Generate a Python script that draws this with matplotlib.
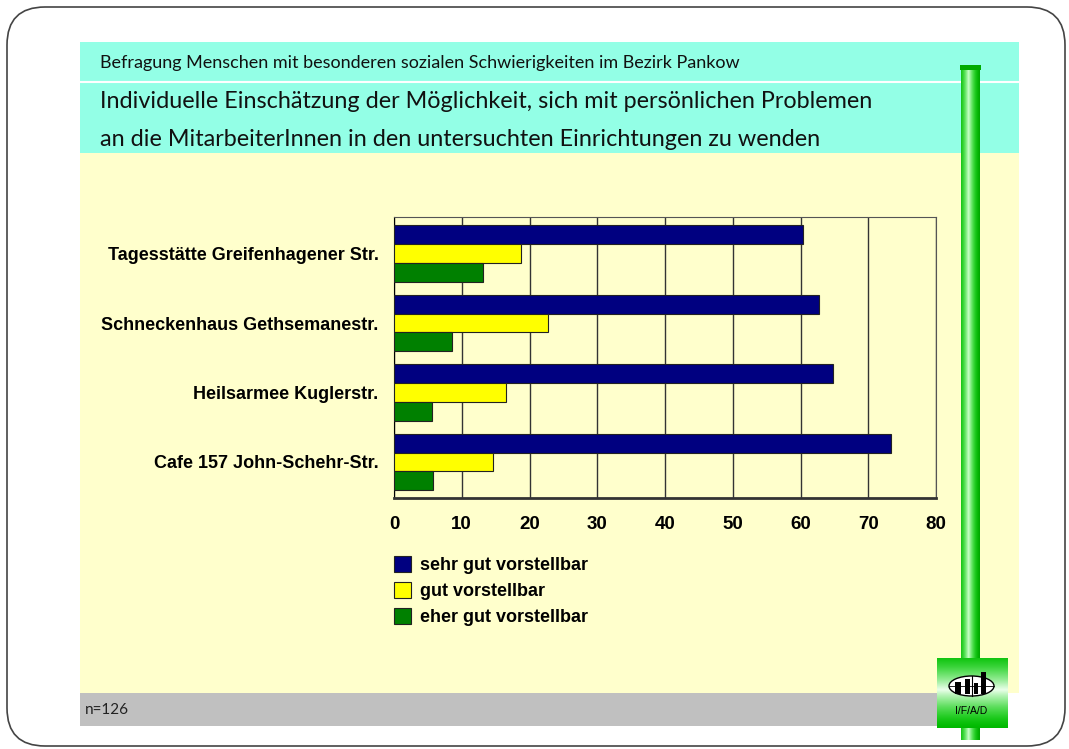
import numpy as np
import matplotlib.pyplot as plt
from matplotlib.patches import Rectangle, FancyBboxPatch, Ellipse

categories = ['Tagesstätte Greifenhagener Str.', 'Schneckenhaus Gethsemanestr.',
              'Heilsarmee Kuglerstr.', 'Cafe 157 John-Schehr-Str.']
series_names = ['sehr gut vorstellbar', 'gut vorstellbar', 'eher gut vorstellbar']
sehr_gut = [60.3, 62.7, 64.8, 73.3]
gut = [18.7, 22.8, 16.5, 14.6]
eher_gut = [13.2, 8.5, 5.6, 5.7]
xticks = [0, 10, 20, 30, 40, 50, 60, 70, 80]

subtitle = 'Befragung Menschen mit besonderen sozialen Schwierigkeiten im Bezirk Pankow'
title1 = 'Individuelle Einschätzung der Möglichkeit, sich mit persönlichen Problemen'
title2 = 'an die MitarbeiterInnen in den untersuchten Einrichtungen zu wenden'
footnote = 'n=126'

W, H = 1069, 749
fig = plt.figure(figsize=(W / 100, H / 100), dpi=100)

# background slide drawn in pixel coordinates
bg = fig.add_axes([0, 0, 1, 1])
bg.set_xlim(0, W)
bg.set_ylim(H, 0)
bg.axis('off')

bg.add_patch(FancyBboxPatch((7, 7), 1058, 739, boxstyle='round,pad=0,rounding_size=38',
                            fc='white', ec='#444444', lw=1.2))
bg.add_patch(Rectangle((80, 42), 939, 111, fc='#93FFE6', ec='none'))
bg.plot([80, 1019], [81.5, 81.5], color='white', lw=1.5)
bg.add_patch(Rectangle((80, 153), 939, 540, fc='#FFFFCC', ec='none'))
bg.add_patch(Rectangle((80, 693), 860, 33, fc='#C0C0C0', ec='none'))

# green pole
grad = np.linspace(0, 1, 64)
pole = 1 - np.abs(grad - 0.4) / 0.6
pole_rgb = np.zeros((1, 64, 3))
pole_rgb[0, :, 0] = 0.8 * pole ** 2
pole_rgb[0, :, 1] = 0.65 + 0.35 * pole
pole_rgb[0, :, 2] = 0.8 * pole ** 2
bg.imshow(pole_rgb, extent=(961, 980, 740, 66), aspect='auto', zorder=2)
bg.add_patch(Rectangle((960, 65), 21, 5, fc='#00AA00', ec='none', zorder=3))

# logo
lg = np.linspace(0, 1, 64)
lv = 1 - np.abs(lg - 0.45) / 0.55
logo_rgb = np.zeros((64, 1, 3))
logo_rgb[:, 0, 0] = 0.92 * lv ** 1.5
logo_rgb[:, 0, 1] = 0.72 + 0.28 * lv
logo_rgb[:, 0, 2] = 0.92 * lv ** 1.5
bg.imshow(logo_rgb, extent=(937, 1008, 728, 658), aspect='auto', zorder=4)
bg.add_patch(Ellipse((971.5, 686), 45, 20, fc='white', ec='black', lw=1, zorder=5))
bg.plot([949, 994], [686, 686], color='black', lw=0.6, zorder=6)
bg.plot([971.5, 971.5], [676, 696], color='black', lw=0.8, zorder=6)
for bx, bw, btop in [(955, 6, 682), (965, 5, 679), (974, 4, 683), (981, 5, 672)]:
    bg.add_patch(Rectangle((bx, btop), bw, 694 - btop, fc='black', ec='none', zorder=6))
bg.text(971.5, 711, 'I/F/A/D', ha='center', va='center', fontsize=7.5,
        family='Liberation Sans', zorder=6)

bg.text(100, 63, subtitle, fontsize=13, family='Lato', va='center', color='#111111')
bg.text(100, 102, title1, fontsize=16.8, family='Lato', va='center', color='#111111')
bg.text(100, 140, title2, fontsize=16.8, family='Lato', va='center', color='#111111')
bg.text(85, 710, footnote, fontsize=11, family='Lato', va='center', color='#222222')

# chart
ax = fig.add_axes([394 / W, 1 - 498 / H, (936 - 394) / W, (498 - 217) / H])
ax.set_facecolor('#FFFFCC')
y = np.arange(len(categories))
h = 0.27
colors = ['#000080', '#FFFF00', '#008000']
for vals, off, c, name in zip([sehr_gut, gut, eher_gut], [-h, 0, h], colors, series_names):
    ax.barh(y + off, vals, height=h, color=c, edgecolor='#222222', lw=0.8,
            label=name, zorder=3)

ax.set_xlim(0, 80)
ax.set_ylim(3.52, -0.527)
ax.set_xticks(xticks)
ax.set_yticks(y)
ax.set_yticklabels(categories, fontsize=13, fontweight='bold', family='Liberation Sans')
ax.set_xticklabels([str(t) for t in xticks], fontsize=13.5, fontweight='bold',
                   family='Liberation Sans')
ax.tick_params(length=0)
ax.tick_params(axis='x', pad=13)
ax.tick_params(axis='y', pad=11)
ax.grid(axis='x', color='#333333', lw=1, zorder=1)
for s in ['top', 'right']:
    ax.spines[s].set_color('#555555')
ax.spines['left'].set_color('black')
ax.spines['bottom'].set_color('#333333')
ax.spines['bottom'].set_linewidth(2)

ax.legend(loc='upper left', bbox_to_anchor=(394 / W, 1 - 556 / H),
          bbox_transform=fig.transFigure, frameon=False,
          prop={'family': 'Liberation Sans', 'weight': 'bold', 'size': 13},
          handlelength=0.95, handleheight=0.95, handletextpad=0.5,
          labelspacing=0.45, borderpad=0, borderaxespad=0)

fig.savefig('out.png', dpi=100)
